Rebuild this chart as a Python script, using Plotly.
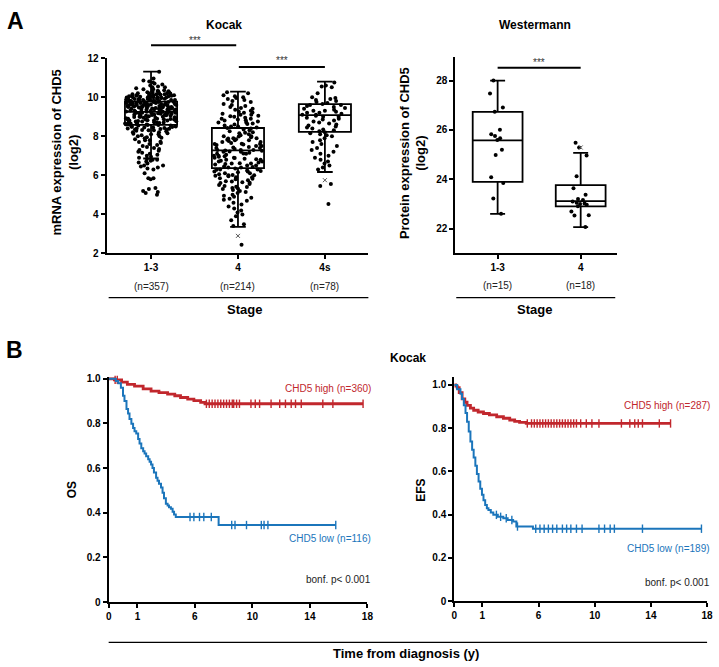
import numpy as np
import plotly.graph_objects as go

# ---------------- DATA ----------------
kocak_cats = ["1-3", "4", "4s"]
kocak_n = ["(n=357)", "(n=214)", "(n=78)"]
kocak_q1 = [8.58, 6.37, 8.22]
kocak_med = [9.25, 7.28, 9.08]
kocak_q3 = [9.77, 8.42, 9.64]
kocak_lo = [6.86, 3.36, 6.17]
kocak_hi = [11.31, 10.28, 10.79]

kocak_g13 = [11.3, 10.95, 10.85, 10.8, 10.75, 10.7, 10.65, 10.6, 10.55, 10.5, 10.5, 10.45, 10.4, 10.4,
             10.35, 10.3, 10.3, 10.3, 10.25, 10.25, 10.2, 10.2, 10.2, 10.2, 10.15, 10.15, 10.15, 10.1,
             10.1, 10.1, 10.1, 10.05, 10.05, 10.05, 10.05, 10.0, 10.0, 10.0, 10.0, 10.0, 9.95, 9.95,
             9.95, 9.95, 9.9, 9.9, 9.9, 9.9, 9.9, 9.85, 9.85, 9.85, 9.85, 9.8, 9.8, 9.8, 9.8, 9.8,
             9.75, 9.75, 9.75, 9.75, 9.7, 9.7, 9.7, 9.7, 9.7, 9.65, 9.65, 9.65, 9.65, 9.6, 9.6, 9.6,
             9.6, 9.6, 9.55, 9.55, 9.55, 9.55, 9.5, 9.5, 9.5, 9.5, 9.5, 9.45, 9.45, 9.45, 9.45, 9.4,
             9.4, 9.4, 9.4, 9.35, 9.35, 9.35, 9.35, 9.3, 9.3, 9.3, 9.3, 9.25, 9.25, 9.25, 9.25, 9.2,
             9.2, 9.2, 9.2, 9.15, 9.15, 9.15, 9.1, 9.1, 9.1, 9.1, 9.05, 9.05, 9.05, 9.0, 9.0, 9.0, 9.0,
             8.95, 8.95, 8.95, 8.9, 8.9, 8.9, 8.85, 8.85, 8.85, 8.8, 8.8, 8.8, 8.75, 8.75, 8.7, 8.7,
             8.7, 8.65, 8.65, 8.6, 8.6, 8.6, 8.55, 8.55, 8.5, 8.5, 8.45, 8.45, 8.4, 8.4, 8.35, 8.35,
             8.3, 8.3, 8.25, 8.2, 8.2, 8.15, 8.1, 8.1, 8.05, 8.0, 8.0, 7.95, 7.9, 7.85, 7.8, 7.8, 7.7,
             7.65, 7.6, 7.5, 7.45, 7.4, 7.3, 7.25, 7.2, 7.1, 7.05, 7.0, 6.9, 6.85, 6.8, 6.8, 6.75,
             6.7, 6.6, 6.5, 6.5, 6.4, 6.35, 6.3, 6.1, 5.85, 5.85, 5.8, 5.35, 5.3, 5.2, 5.15, 5.1, 5.0,
             10.32, 10.22, 10.18, 10.12, 10.08, 10.02, 9.98, 9.92, 9.88, 9.82, 9.78, 9.72, 9.68,
             9.62, 9.58, 9.52, 9.48, 9.42, 9.38, 9.32, 9.28, 9.22, 9.18, 9.12, 9.08, 9.02, 8.98,
             8.92, 8.88, 8.82, 8.78, 8.72, 8.68, 8.62, 8.58, 8.52, 8.48, 8.42, 8.38, 8.32, 8.28,
             10.07, 9.97, 9.87, 9.77, 9.67, 9.57, 9.47, 9.37, 9.27, 9.17, 9.07, 8.97, 8.87, 8.77,
             8.67, 8.57, 8.47, 8.37, 8.12, 7.92, 7.72, 7.55, 7.35, 7.15, 6.95, 6.65, 6.45]
kocak_g4 = [10.25, 10.2, 10.1, 10.05, 10.0, 9.95, 9.9, 9.85, 9.8, 9.75, 9.6, 9.55, 9.5, 9.45, 9.4,
            9.35, 9.3, 9.25, 9.2, 9.15, 9.1, 9.1, 9.05, 9.0, 8.95, 8.9, 8.9, 8.85, 8.8, 8.75, 8.7,
            8.7, 8.65, 8.6, 8.55, 8.5, 8.5, 8.45, 8.4, 8.35, 8.3, 8.25, 8.2, 8.15, 8.1, 8.05, 8.0,
            8.0, 7.95, 7.9, 7.9, 7.85, 7.8, 7.8, 7.75, 7.7, 7.7, 7.65, 7.6, 7.6, 7.55, 7.5, 7.5, 7.45,
            7.4, 7.4, 7.35, 7.3, 7.3, 7.3, 7.25, 7.2, 7.2, 7.15, 7.1, 7.1, 7.05, 7.0, 7.0, 6.95, 6.9,
            6.9, 6.85, 6.8, 6.8, 6.75, 6.7, 6.7, 6.65, 6.6, 6.6, 6.55, 6.5, 6.5, 6.45, 6.4, 6.4, 6.35,
            6.3, 6.3, 6.25, 6.2, 6.2, 6.15, 6.1, 6.1, 6.05, 6.0, 6.0, 5.95, 5.9, 5.9, 5.85, 5.8, 5.75,
            5.7, 5.65, 5.6, 5.55, 5.5, 5.45, 5.4, 5.35, 5.3, 5.25, 5.2, 5.1, 5.0, 4.95, 4.9, 4.8,
            4.75, 4.7, 4.6, 4.5, 4.4, 4.3, 4.2, 4.1, 4.0, 3.9, 3.7, 3.5, 3.4, 2.45,
            9.65, 9.22, 8.82, 8.42, 8.18, 7.98, 7.82, 7.62, 7.42, 7.27, 7.12, 6.97, 6.82, 6.62,
            6.42, 6.22, 6.02, 5.82, 5.62, 5.42, 5.15, 4.85, 9.02, 8.62, 7.88, 7.58, 7.22, 6.88,
            6.58, 6.28, 5.98, 5.68, 5.32]
kocak_g4s = [10.75, 10.6, 10.55, 10.5, 10.2, 10.0, 9.95, 9.9, 9.85, 9.8, 9.75, 9.7, 9.65, 9.6, 9.6,
             9.55, 9.5, 9.45, 9.4, 9.35, 9.3, 9.3, 9.25, 9.2, 9.2, 9.15, 9.1, 9.1, 9.05, 9.0, 9.0,
             8.95, 8.9, 8.85, 8.8, 8.75, 8.7, 8.65, 8.6, 8.55, 8.5, 8.45, 8.4, 8.35, 8.3, 8.25, 8.2,
             8.15, 8.1, 8.05, 8.0, 7.9, 7.8, 7.7, 7.6, 7.5, 7.4, 7.3, 7.2, 7.1, 7.0, 6.9, 6.8, 6.7,
             6.6, 6.5, 6.4, 6.3, 5.55, 5.45, 4.53]
kocak_out_cat = ["4", "4s"]
kocak_out_val = [2.9, 5.75]

west_cats = ["1-3", "4"]
west_n = ["(n=15)", "(n=18)"]
west_q1 = [23.9, 22.91]
west_med = [25.58, 23.12]
west_q3 = [26.73, 23.77]
west_lo = [22.6, 22.07]
west_hi = [28.0, 25.07]
west_g13 = [28.0, 27.47, 26.91, 26.74, 26.01, 25.83, 25.75, 25.66, 25.59, 25.2, 24.99, 24.08, 23.85,
            23.22, 22.61]
west_g4 = [25.48, 25.29, 24.97, 24.13, 23.64, 23.38, 23.2, 23.16, 23.1, 23.05, 23.02, 23.0, 22.97,
           22.91, 22.7, 22.55, 22.54, 22.07]
west_out_cat = ["4"]
west_out_val = [25.29]

km_xtick_vals = [0, 2, 6, 10, 14, 18]
km_xtick_text = ["0", "1", "6", "10", "14", "18"]
km_ytick_vals = [0, 0.2, 0.4, 0.6, 0.8, 1.0]
km_ytick_text = ["0", "0.2", "0.4", "0.6", "0.8", "1.0"]

os_hi_t = [0, 0.4, 0.9, 1.3, 1.8, 2.4, 2.95, 3.5, 4.1, 4.6, 5.0, 5.5, 5.93, 6.4, 6.7]
os_hi_s = [1.0, 0.995, 0.985, 0.975, 0.967, 0.955, 0.945, 0.938, 0.931, 0.924, 0.916, 0.909, 0.902,
           0.894, 0.888]
os_hi_end = 17.7
os_hi_cens = [0.45, 0.6, 6.8, 7.0, 7.2, 7.4, 7.6, 7.8, 8.0, 8.2, 8.4, 8.6, 8.7, 8.9, 9.1, 9.9, 10.2,
              10.5, 11.3, 11.9, 12.3, 12.7, 13.0, 13.4, 14.9, 15.6, 17.7]

os_lo_t = [0, 0.5, 0.67, 0.85, 1.0, 1.1, 1.24, 1.35, 1.45, 1.58, 1.7, 1.8, 1.92, 2.05, 2.15, 2.27,
           2.4, 2.5, 2.61, 2.75, 2.85, 2.95, 3.05, 3.15, 3.3, 3.4, 3.5, 3.64, 3.75, 3.85, 3.98, 4.1,
           4.2, 4.33, 4.45, 4.55, 4.67, 7.65]
os_lo_s = [1.0, 0.99, 0.98, 0.96, 0.924, 0.9, 0.865, 0.845, 0.82, 0.799, 0.78, 0.765, 0.755, 0.73,
           0.71, 0.689, 0.675, 0.665, 0.653, 0.64, 0.628, 0.616, 0.6, 0.58, 0.557, 0.543, 0.53,
           0.513, 0.49, 0.465, 0.44, 0.432, 0.425, 0.418, 0.405, 0.392, 0.381, 0.345]
os_lo_end = 15.8
os_lo_cens = [5.66, 5.93, 6.32, 6.62, 7.14, 8.56, 8.79, 9.59, 10.62, 10.81, 11.08, 15.8]

efs_hi_t = [0, 0.1, 0.21, 0.35, 0.56, 0.75, 0.91, 1.15, 1.38, 1.7, 2.08, 2.5, 3.02, 3.5, 3.95, 4.3,
            4.65, 5.12]
efs_hi_s = [1.0, 0.995, 0.988, 0.965, 0.936, 0.92, 0.906, 0.893, 0.883, 0.875, 0.868, 0.862, 0.853,
            0.846, 0.838, 0.832, 0.827, 0.822]
efs_hi_end = 15.4
efs_hi_cens = [5.2, 5.5, 5.7, 5.9, 6.1, 6.3, 6.5, 6.7, 6.9, 7.1, 7.3, 7.5, 7.7, 7.9, 8.1, 8.3, 8.5,
               8.7, 9.0, 9.4, 9.8, 10.3, 11.9, 12.5, 12.85, 13.1, 13.4, 14.6, 15.4]

efs_lo_t = [0, 0.2, 0.44, 0.55, 0.68, 0.8, 0.91, 1.03, 1.15, 1.27, 1.38, 1.5, 1.61, 1.73, 1.85,
            1.97, 2.08, 2.2, 2.32, 2.43, 2.6, 2.78, 3.1, 3.49, 3.8, 4.19, 4.42, 5.6]
efs_lo_s = [1.0, 0.98, 0.959, 0.935, 0.906, 0.87, 0.83, 0.785, 0.739, 0.7, 0.664, 0.626, 0.588,
            0.553, 0.52, 0.492, 0.467, 0.445, 0.43, 0.421, 0.41, 0.399, 0.39, 0.383, 0.375, 0.368,
            0.345, 0.335]
efs_lo_end = 17.6
efs_lo_cens = [3.0, 3.3, 3.7, 4.1, 4.5, 5.8, 6.1, 6.4, 6.7, 7.0, 7.3, 7.7, 8.0, 8.3, 8.7, 9.1, 10.3,
               10.7, 11.1, 11.4, 13.4, 17.6]

# ---------------- STYLE ----------------
W, H = 719, 667
RED = "#C1272D"
BLUE = "#1B75BB"
FONT = "Arial, Liberation Sans, sans-serif"


def px(x):
    return x / W


def py(y):
    return 1 - y / H


fig = go.Figure()

# ---- Box plots ----
def add_boxes(cats, q1, med, q3, lo, hi, groups, out_cat, out_val, xa, ya, jit):
    for i, c in enumerate(cats):
        fig.add_trace(go.Box(x=[c], q1=[q1[i]], median=[med[i]], q3=[q3[i]],
                             lowerfence=[lo[i]], upperfence=[hi[i]], boxpoints=False,
                             width=0.6, whiskerwidth=0.3, fillcolor="white",
                             line=dict(color="black", width=1.8), xaxis=xa, yaxis=ya,
                             hoverinfo="skip"))
    for i, c in enumerate(cats):
        vals = groups[i]
        fig.add_trace(go.Box(x=[c] * len(vals), y=vals, boxpoints="all", jitter=jit[i],
                             pointpos=0, width=0.6, whiskerwidth=0,
                             fillcolor="rgba(0,0,0,0)",
                             line=dict(color="rgba(0,0,0,0)", width=0),
                             marker=dict(color="black", size=4),
                             xaxis=xa, yaxis=ya))
    fig.add_trace(go.Scatter(x=out_cat, y=out_val, mode="markers",
                             marker=dict(symbol="x-thin", size=4,
                                         line=dict(color="#555", width=1)),
                             xaxis=xa, yaxis=ya))


add_boxes(kocak_cats, kocak_q1, kocak_med, kocak_q3, kocak_lo, kocak_hi,
          [kocak_g13, kocak_g4, kocak_g4s], kocak_out_cat, kocak_out_val, "x", "y",
          [1.0, 0.95, 0.95])
add_boxes(west_cats, west_q1, west_med, west_q3, west_lo, west_hi,
          [west_g13, west_g4], west_out_cat, west_out_val, "x2", "y2", [0.35, 0.6])


# ---- KM curves ----
def add_km(t, s, end, cens, color, width, xa, ya):
    tt = np.array(t + [end])
    ss = np.array(s + [s[-1]])
    fig.add_trace(go.Scatter(x=tt, y=ss, mode="lines", line_shape="hv",
                             line=dict(color=color, width=width), xaxis=xa, yaxis=ya))
    c = np.array(cens)
    idx = np.searchsorted(np.array(t), c, side="right") - 1
    cy = np.array(s)[idx]
    fig.add_trace(go.Scatter(x=c, y=cy, mode="markers",
                             marker=dict(symbol="line-ns", size=6,
                                         line=dict(color=color, width=1.4)),
                             xaxis=xa, yaxis=ya, cliponaxis=False))


add_km(os_hi_t, os_hi_s, os_hi_end, os_hi_cens, RED, 2.8, "x3", "y3")
add_km(os_lo_t, os_lo_s, os_lo_end, os_lo_cens, BLUE, 2.0, "x3", "y3")
add_km(efs_hi_t, efs_hi_s, efs_hi_end, efs_hi_cens, RED, 2.8, "x4", "y4")
add_km(efs_lo_t, efs_lo_s, efs_lo_end, efs_lo_cens, BLUE, 2.0, "x4", "y4")

# ---------------- AXES ----------------
axis_common = dict(showline=True, linecolor="black", linewidth=2, ticks="outside", ticklen=4,
                   tickwidth=2, tickcolor="black", showgrid=False, zeroline=False,
                   tickfont=dict(family=FONT, size=10, color="black", weight="bold"))

fig.update_layout(
    xaxis=dict(domain=[px(105), px(370)], anchor="y", type="category",
               categoryorder="array", categoryarray=kocak_cats, range=[-0.51, 2.5],
               **axis_common),
    yaxis=dict(domain=[py(252), py(53)], anchor="x", range=[2, 12], dtick=2, **axis_common),
    xaxis2=dict(domain=[px(458), px(622)], anchor="y2", type="category",
                categoryorder="array", categoryarray=west_cats, range=[-0.51, 1.44],
                **axis_common),
    yaxis2=dict(domain=[py(252), py(52)], anchor="x2", range=[21, 28.95],
                tickvals=[22, 24, 26, 28], **axis_common),
    xaxis3=dict(domain=[px(107), px(369)], anchor="y3", range=[0, 18],
                tickvals=km_xtick_vals, ticktext=km_xtick_text, **axis_common),
    yaxis3=dict(domain=[py(607), py(378)], anchor="x3", range=[0, 1.007],
                tickvals=km_ytick_vals, ticktext=km_ytick_text, **axis_common),
    xaxis4=dict(domain=[px(457), px(713)], anchor="y4", range=[0, 18],
                tickvals=km_xtick_vals, ticktext=km_xtick_text, **axis_common),
    yaxis4=dict(domain=[py(606), py(378)], anchor="x4", range=[0, 1.036],
                tickvals=km_ytick_vals, ticktext=km_ytick_text, **axis_common),
)

# ---------------- ANNOTATIONS ----------------
ann = []


def txt(text, x, y, size=10, bold=False, color="black", xanchor="center", angle=0,
        xref="paper", yref="paper"):
    ann.append(dict(text=text, x=x, y=y, xref=xref, yref=yref, xanchor=xanchor,
                    yanchor="middle", showarrow=False, textangle=angle,
                    font=dict(family=FONT, size=size, color=color,
                              weight="bold" if bold else "normal")))


txt("A", px(13), py(15), size=23, bold=True)
txt("B", px(12), py(350), size=23, bold=True)
txt("Kocak", px(224), py(19), size=12, bold=True)
txt("Westermann", px(539), py(19), size=12, bold=True)
txt("Kocak", px(410), py(358), size=12, bold=True)
txt("***", px(194), py(35), size=10, color="#333")
txt("***", px(283), py(56), size=10, color="#333")
txt("***", px(543), py(58), size=10, color="#333")
for i, n in enumerate(kocak_n):
    txt(n, i, py(286), size=10, color="#222", xref="x")
for i, n in enumerate(west_n):
    txt(n, i, py(285), size=10, color="#222", xref="x2")
txt("Stage", px(245), py(309), size=13, bold=True)
txt("Stage", px(538), py(309), size=13, bold=True)
txt("mRNA expression of CHD5<br>(log2)", px(63), py(149), size=13, bold=True, angle=-90)
txt("Protein expression of CHD5<br>(log2)", px(415), py(150), size=13, bold=True, angle=-90)
txt("OS", px(70), py(493), size=12, bold=True, angle=-90)
txt("EFS", px(423), py(493), size=12, bold=True, angle=-90)
txt("Time from diagnosis (y)", px(408), py(659), size=13, bold=True)
txt("CHD5 high (n=360)", px(375), py(389), size=10, color=RED, xanchor="right")
txt("CHD5 low (n=116)", px(375), py(542), size=10, color=BLUE, xanchor="right")
txt("bonf. p< 0.001", px(375), py(584), size=10, color="#222", xanchor="right")
txt("CHD5 high (n=287)", px(718), py(407), size=10, color=RED, xanchor="right")
txt("CHD5 low (n=189)", px(718), py(552), size=10, color=BLUE, xanchor="right")
txt("bonf. p< 0.001", px(718), py(587), size=10, color="#222", xanchor="right")

shapes = [
    dict(type="line", xref="x", yref="paper", x0=0, x1=0.98, y0=py(40), y1=py(40),
         line=dict(color="black", width=2)),
    dict(type="line", xref="x", yref="paper", x0=1.01, x1=2, y0=py(62), y1=py(62),
         line=dict(color="black", width=2)),
    dict(type="line", xref="x2", yref="paper", x0=0, x1=1, y0=py(63), y1=py(63),
         line=dict(color="black", width=2)),
    dict(type="line", xref="paper", yref="paper", x0=px(107), x1=px(370), y0=py(297),
         y1=py(297), line=dict(color="black", width=1.3)),
    dict(type="line", xref="paper", yref="paper", x0=px(459), x1=px(620), y0=py(297),
         y1=py(297), line=dict(color="black", width=1.3)),
    dict(type="line", xref="paper", yref="paper", x0=px(107), x1=px(713), y0=py(648),
         y1=py(648), line=dict(color="black", width=1.3)),
]

fig.update_layout(
    width=W, height=H, margin=dict(l=0, r=0, t=0, b=0),
    paper_bgcolor="white", plot_bgcolor="white", showlegend=False,
    boxmode="overlay", annotations=ann, shapes=shapes,
    font=dict(family=FONT, color="black"),
)

post = """
document.documentElement.style.margin='0';
document.body.style.margin='0';
document.documentElement.style.overflow='hidden';
document.body.style.overflow='hidden';
"""

fig.write_html("out.html", config={"displayModeBar": False}, post_script=post)
